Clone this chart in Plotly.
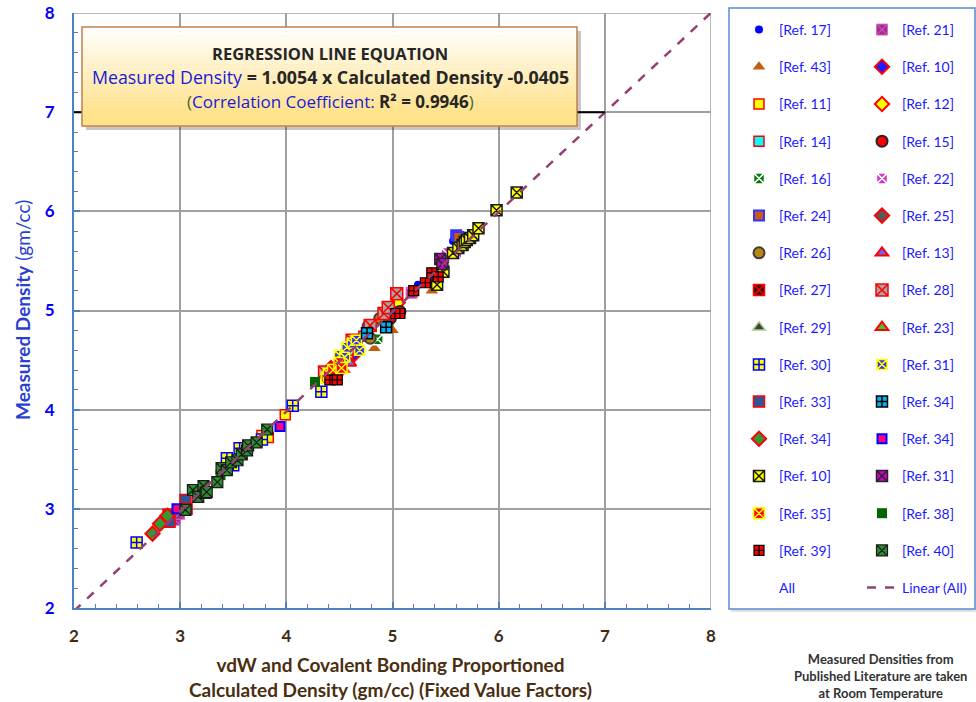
import plotly.graph_objects as go

# ---------------- data ----------------
SLOPE = 1.0054
INTERCEPT = -0.0405
R2 = 0.9946
REF_LINE_Y = 7.0
REF_LINE_X_END = 7.0

x_ticks = [2, 3, 4, 5, 6, 7, 8]
y_ticks = [2, 3, 4, 5, 6, 7, 8]

ref17_x = [4.47, 4.53, 4.99, 5.24, 5.57]
ref17_y = [4.44, 4.57, 4.93, 5.26, 5.70]
ref21_x = [2.95, 2.99, 5.18]
ref21_y = [2.89, 2.95, 5.18]
ref43_x = [4.55, 4.83, 5.00, 5.37]
ref43_y = [4.40, 4.62, 4.80, 5.20]
ref10d_x = [4.56, 4.64]
ref10d_y = [4.50, 4.56]
ref11_x = [3.77, 3.83, 3.99, 4.58]
ref11_y = [3.74, 3.72, 3.95, 4.57]
ref12_x = [4.62, 5.05]
ref12_y = [4.63, 5.08]
ref14_x = [4.58, 4.73]
ref14_y = [4.60, 4.74]
ref15_x = [4.98, 5.07]
ref15_y = [4.92, 4.99]
ref16_x = [4.86]
ref16_y = [4.71]
ref22_x = [5.49, 5.51, 5.60]
ref22_y = [5.51, 5.58, 5.57]
ref24_x = [5.60, 5.62]
ref24_y = [5.76, 5.74]
ref25_x = [4.42, 4.47]
ref25_y = [4.42, 4.36]
ref26_x = [4.66, 4.77, 4.79, 4.88, 4.95]
ref26_y = [4.69, 4.84, 4.72, 4.92, 4.95]
ref13_x = [4.52, 4.60]
ref13_y = [4.50, 4.47]
ref27_x = [4.42]
ref27_y = [4.37]
ref28_x = [4.36, 4.62, 4.79, 4.92, 4.96, 5.04]
ref28_y = [4.38, 4.70, 4.85, 4.97, 5.03, 5.17]
ref29_x = [4.45]
ref29_y = [4.33]
ref23_x = [4.46]
ref23_y = [4.36]
ref30_x = [2.59, 3.44, 3.50, 3.56, 3.77, 4.06, 4.33]
ref30_y = [2.66, 3.51, 3.44, 3.61, 3.70, 4.04, 4.18]
ref31b_x = [4.50, 4.55, 4.57, 4.62, 4.66, 4.69]
ref31b_y = [4.55, 4.53, 4.63, 4.67, 4.70, 4.60]
ref33_x = [2.89, 2.90, 3.05, 3.06]
ref33_y = [2.94, 2.87, 3.09, 3.00]
ref34c_x = [4.76, 4.94]
ref34c_y = [4.77, 4.83]
ref34g_x = [2.74, 2.81, 2.88]
ref34g_y = [2.75, 2.85, 2.93]
ref34p_x = [2.97, 3.94]
ref34p_y = [3.00, 3.83]
ref10y_x = [5.42, 5.48, 5.57, 5.62, 5.66, 5.68, 5.70, 5.73, 5.76, 5.81, 5.98, 6.17]
ref10y_y = [5.26, 5.39, 5.58, 5.63, 5.66, 5.69, 5.71, 5.73, 5.76, 5.83, 6.01, 6.19]
ref31p_x = [5.45, 5.47]
ref31p_y = [5.52, 5.47]
ref35_x = [4.38, 4.40, 4.44, 4.50, 4.52]
ref35_y = [4.32, 4.36, 4.40, 4.47, 4.42]
ref38_x = [3.38, 4.27]
ref38_y = [3.34, 4.28]
ref39_x = [4.41, 4.48, 5.03, 5.07, 5.20, 5.31, 5.37, 5.43]
ref39_y = [4.30, 4.30, 4.97, 4.97, 5.20, 5.28, 5.38, 5.34]
ref40_x = [3.05, 3.12, 3.17, 3.22, 3.24, 3.25, 3.35, 3.39, 3.44, 3.48, 3.54, 3.58, 3.63, 3.64, 3.72, 3.82]
ref40_y = [2.99, 3.19, 3.12, 3.23, 3.16, 3.17, 3.27, 3.41, 3.39, 3.47, 3.49, 3.55, 3.59, 3.64, 3.67, 3.80]

# ---------------- styles ----------------
FONT = "Lato, 'Open Sans', sans-serif"
BOXFONT = "'Open Sans', Lato, sans-serif"
RED = "#ff0000"
LEG_TEXT = "#1a1aff"


def mk(symbol, color, lc=None, lw=0, size=10):
    return dict(symbol=symbol, color=color, size=size,
                line=dict(color=lc if lc else color, width=lw))


# (name, legend, x, y, marker) in row-major legend order
series = [
    ("[Ref. 17]", "legend", ref17_x, ref17_y, mk("circle", "#0000ff", size=8)),
    ("[Ref. 21]", "legend2", ref21_x, ref21_y, mk("square-x", "#a0308f", "#e066c8", 1, 11)),
    ("[Ref. 43]", "legend", ref43_x, ref43_y, mk("triangle-up", "#c55a11", size=11)),
    ("[Ref. 10]", "legend2", ref10d_x, ref10d_y, mk("diamond", "#1f1fff", RED, 2, 11)),
    ("[Ref. 11]", "legend", ref11_x, ref11_y, mk("square", "#ffff00", RED, 1.5, 10)),
    ("[Ref. 12]", "legend2", ref12_x, ref12_y, mk("diamond", "#ffff00", RED, 2, 11)),
    ("[Ref. 14]", "legend", ref14_x, ref14_y, mk("square", "#00ffff", RED, 1.5, 10)),
    ("[Ref. 15]", "legend2", ref15_x, ref15_y, mk("circle", "#ff0000", "#262626", 2, 11)),
    ("[Ref. 16]", "legend", ref16_x, ref16_y, mk("square-x", "#007a00", "#ffffff", 1.5, 11)),
    ("[Ref. 22]", "legend2", ref22_x, ref22_y, mk("square-x", "#cc33cc", "#ffffff", 1.5, 11)),
    ("[Ref. 24]", "legend", ref24_x, ref24_y, mk("square", "#c55a11", "#3333ff", 2, 10)),
    ("[Ref. 25]", "legend2", ref25_x, ref25_y, mk("diamond", "#595959", RED, 2, 11)),
    ("[Ref. 26]", "legend", ref26_x, ref26_y, mk("circle", "#b8860b", "#3f3f3f", 2, 11)),
    ("[Ref. 13]", "legend2", ref13_x, ref13_y, mk("triangle-up", "#6666ff", RED, 2, 11)),
    ("[Ref. 27]", "legend", ref27_x, ref27_y, mk("square-x", "#3a1010", RED, 1.5, 11)),
    ("[Ref. 28]", "legend2", ref28_x, ref28_y, mk("square-x", "#a6a6a6", RED, 1.5, 12)),
    ("[Ref. 29]", "legend", ref29_x, ref29_y, mk("triangle-up", "#404040", "#a9d18e", 1.5, 11)),
    ("[Ref. 23]", "legend2", ref23_x, ref23_y, mk("triangle-up", "#33cc33", RED, 2, 11)),
    ("[Ref. 30]", "legend", ref30_x, ref30_y, mk("square-cross", "#ffff00", "#0000ff", 1.5, 11)),
    ("[Ref. 31]", "legend2", ref31b_x, ref31b_y, mk("square-x", "#3030ff", "#ffff00", 1.5, 10)),
    ("[Ref. 33]", "legend", ref33_x, ref33_y, mk("square", "#2f5597", RED, 1.5, 11)),
    ("[Ref. 34]", "legend2", ref34c_x, ref34c_y, mk("square-cross", "#00b0f0", "#000000", 1.5, 11)),
    ("[Ref. 34]", "legend", ref34g_x, ref34g_y, mk("diamond", "#339933", RED, 2, 11)),
    ("[Ref. 34]", "legend2", ref34p_x, ref34p_y, mk("square", "#ff0080", "#0000ff", 2, 9)),
    ("[Ref. 10]", "legend", ref10y_x, ref10y_y, mk("square-x", "#ffff00", "#1a1a1a", 1.5, 11)),
    ("[Ref. 31]", "legend2", ref31p_x, ref31p_y, mk("square-x", "#cc00cc", "#262626", 1.5, 11)),
    ("[Ref. 35]", "legend", ref35_x, ref35_y, mk("square-x", "#ff0000", "#ffff00", 1.5, 11)),
    ("[Ref. 38]", "legend2", ref38_x, ref38_y, mk("square", "#006600", size=10)),
    ("[Ref. 39]", "legend", ref39_x, ref39_y, mk("square-cross", "#ff0000", "#000000", 1.2, 10)),
    ("[Ref. 40]", "legend2", ref40_x, ref40_y, mk("square-x", "#2e8b2e", "#1a1a1a", 1.2, 11)),
]

fig = go.Figure()

all_x, all_y = [], []
for i, (name, leg, xs, ys, marker) in enumerate(series):
    all_x += xs
    all_y += ys
    fig.add_trace(go.Scatter(x=xs, y=ys, mode="markers", name=name, legend=leg,
                             legendgroup=f"g{i}", marker=marker))

fig.add_trace(go.Scatter(x=all_x, y=all_y, mode="markers", name="All", legend="legend",
                         legendgroup="gall", hoverinfo="skip",
                         marker=dict(color="rgba(0,0,0,0)", size=1)))

line_x = [x_ticks[0], x_ticks[-1]]
line_y = [SLOPE * v + INTERCEPT for v in line_x]
fig.add_trace(go.Scatter(x=line_x, y=line_y, mode="lines", name="Linear (All)",
                         legend="legend2", legendgroup="glin",
                         line=dict(color="#953f72", width=2.5, dash="dash")))

# ---------------- layout ----------------
AXIS_BLUE = "#4f81bd"
GRID = "#a0a0a0"

W, H = 976, 702
PLOT_L, PLOT_R, PLOT_T, PLOT_B = 74, 711, 13, 608   # page pixels
L, T = PLOT_L, PLOT_T
R, B = W - PLOT_R, H - PLOT_B
PW, PH = W - L - R, H - T - B


def px_x(p):
    return (p - PLOT_L) / PW


def px_y(p):
    return (PLOT_B - p) / PH


axis_common = dict(
    range=[2, 8], tickvals=x_ticks, showgrid=True, gridcolor=GRID, gridwidth=1.5,
    showline=True, linecolor=AXIS_BLUE, linewidth=2, ticks="inside", ticklen=6,
    tickcolor=AXIS_BLUE, tickwidth=1.5, zeroline=False, ticklabeloverflow="allow",
    minor=dict(dtick=0.2, ticks="inside", ticklen=4, tickcolor=AXIS_BLUE, tickwidth=1, showgrid=False),
)

LEG_GAP = 16
fig.update_layout(
    width=W, height=H, autosize=False,
    margin=dict(l=L, r=R, t=T, b=B, autoexpand=False),
    paper_bgcolor="white", plot_bgcolor="white",
    font=dict(family=FONT),
    xaxis=dict(**axis_common,
               tickfont=dict(family=FONT, size=17, color="#3f2a14", weight="bold"),
               ticklabelstandoff=12),
    yaxis=dict(**{**axis_common, "tickvals": y_ticks},
               tickfont=dict(family=FONT, size=17, color="#0000ff", weight="bold"),
               ticklabelstandoff=14),
    legend=dict(x=px_x(739), y=px_y(14), xanchor="left", yanchor="top",
                bgcolor="rgba(0,0,0,0)", font=dict(family=FONT, size=14, color=LEG_TEXT),
                tracegroupgap=LEG_GAP, itemwidth=30, traceorder="grouped"),
    legend2=dict(x=px_x(862), y=px_y(14), xanchor="left", yanchor="top",
                 bgcolor="rgba(0,0,0,0)", font=dict(family=FONT, size=14, color=LEG_TEXT),
                 tracegroupgap=LEG_GAP, itemwidth=30, traceorder="grouped"),
)

shapes = []
# gridlines at the far ends of both axes
shapes.append(dict(type="line", xref="x", yref="y", x0=x_ticks[0], x1=x_ticks[-1],
                   y0=y_ticks[-1], y1=y_ticks[-1], layer="below", line=dict(color=GRID, width=1.5)))
shapes.append(dict(type="line", xref="x", yref="y", x0=x_ticks[-1], x1=x_ticks[-1],
                   y0=y_ticks[0], y1=y_ticks[-1], layer="below", line=dict(color=GRID, width=1.5)))
# reference line at y=7
shapes.append(dict(type="line", xref="x", yref="y", x0=x_ticks[0], x1=REF_LINE_X_END,
                   y0=REF_LINE_Y, y1=REF_LINE_Y, line=dict(color="black", width=2)))

# legend box
shapes.append(dict(type="rect", xref="paper", yref="paper",
                   x0=px_x(731), x1=px_x(977), y0=px_y(612), y1=px_y(11),
                   fillcolor="rgba(0,0,0,0.12)", line=dict(width=0)))
shapes.append(dict(type="rect", xref="paper", yref="paper",
                   x0=px_x(729), x1=px_x(975), y0=px_y(609), y1=px_y(8),
                   fillcolor="white", line=dict(color="#5b8bd0", width=1.5)))

# equation box: shadow, gradient bands, border
bx0, bx1, by0, by1 = 82, 577, 27, 126
shapes.append(dict(type="rect", xref="paper", yref="paper",
                   x0=px_x(bx0 + 4), x1=px_x(bx1 + 4), y0=px_y(by1 + 4), y1=px_y(by0 + 4),
                   fillcolor="rgba(0,0,0,0.22)", line=dict(width=0)))
N = 24
top_c = (255, 255, 255)
bot_c = (255, 226, 140)
for k in range(N):
    t = (k + 0.5) / N
    c = tuple(int(round(top_c[j] + (bot_c[j] - top_c[j]) * min(1, t * 1.15))) for j in range(3))
    ya = by0 + (by1 - by0) * k / N
    yb = by0 + (by1 - by0) * (k + 1) / N
    shapes.append(dict(type="rect", xref="paper", yref="paper",
                       x0=px_x(bx0), x1=px_x(bx1), y0=px_y(yb + 0.5), y1=px_y(ya),
                       fillcolor=f"rgb{c}", line=dict(width=0)))
shapes.append(dict(type="rect", xref="paper", yref="paper",
                   x0=px_x(bx0), x1=px_x(bx1), y0=px_y(by1), y1=px_y(by0),
                   fillcolor="rgba(0,0,0,0)", line=dict(color="#c0814a", width=1.5)))

fig.update_layout(shapes=shapes)

DARK = "#262626"
BLUE_T = "#1a1ad8"
GREEN_T = "#4f6228"
cx = px_x(330)
annotations = [
    dict(x=cx, y=px_y(54), text="<b>REGRESSION LINE EQUATION</b>",
         font=dict(family=BOXFONT, size=16.5, color=DARK)),
    dict(x=cx, y=px_y(77),
         text=f"<span style='color:{BLUE_T}'>Measured Density</span> <b>= {SLOPE:.4f} x Calculated Density {INTERCEPT:.4f}</b>",
         font=dict(family=BOXFONT, size=17.8, color=DARK)),
    dict(x=cx, y=px_y(101),
         text=f"<span style='color:{GREEN_T}'>(</span><span style='color:{BLUE_T}'>Correlation Coefficient: </span><b>R² = {R2:.4f}</b><span style='color:{GREEN_T}'>)</span>",
         font=dict(family=BOXFONT, size=17, color=DARK)),
    dict(x=px_x(22), y=px_y(310), textangle=-90,
         text="<b>Measured Density</b> (gm/cc)",
         font=dict(family=FONT, size=19, color="#2a3fd0")),
    dict(x=px_x(390), y=px_y(677),
         text="<b>vdW and Covalent Bonding Proportioned<br>Calculated Density (gm/cc) (Fixed Value Factors)</b>",
         font=dict(family=FONT, size=19, color="#4a2e0f")),
    dict(x=px_x(880), y=px_y(676),
         text="<b>Measured Densities from<br>Published Literature are taken<br>at Room Temperature</b>",
         font=dict(family=FONT, size=13, color="#333333")),
]
for a in annotations:
    a.update(xref="paper", yref="paper", showarrow=False, xanchor="center", yanchor="middle")
fig.update_layout(annotations=annotations)

fig.write_html("out.html", config={"displayModeBar": False},
               post_script="document.body.style.margin='0';")
